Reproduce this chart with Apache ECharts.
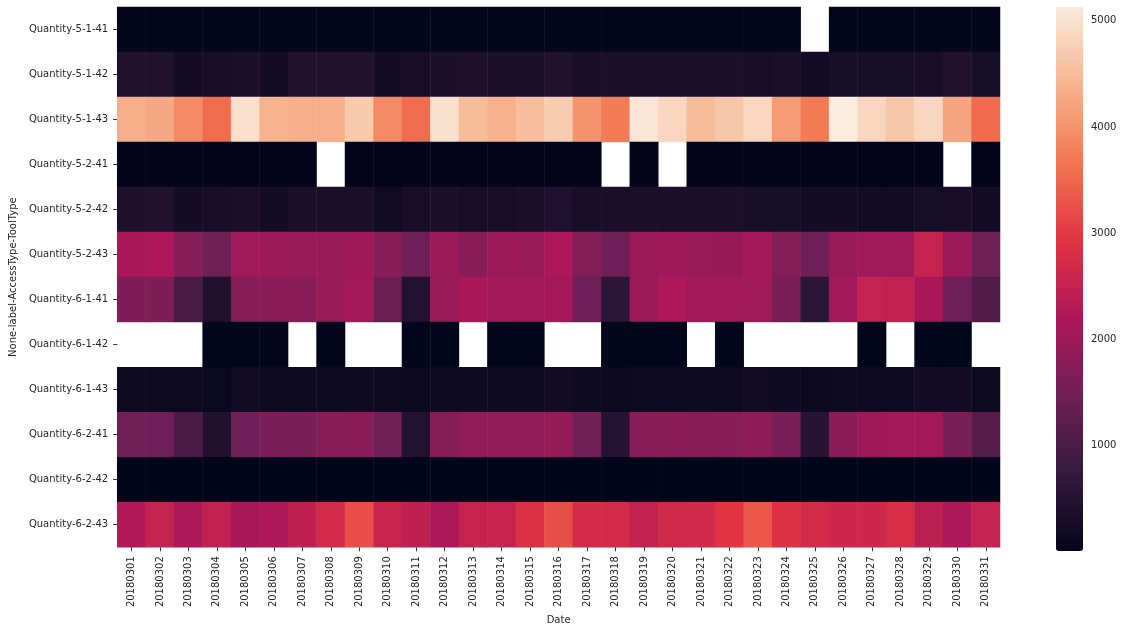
<!DOCTYPE html>
<html><head><meta charset="utf-8">
<script src="https://cdn.jsdelivr.net/npm/echarts@6/dist/echarts.min.js"></script>
<style>html,body{margin:0;padding:0;background:#fff}#c{width:1123px;height:630px}</style>
</head><body><div id="c"></div>
<script>
const dates = ['20180301','20180302','20180303','20180304','20180305','20180306','20180307','20180308','20180309','20180310','20180311','20180312','20180313','20180314','20180315','20180316','20180317','20180318','20180319','20180320','20180321','20180322','20180323','20180324','20180325','20180326','20180327','20180328','20180329','20180330','20180331'];
const rowNames = ['Quantity-5-1-41','Quantity-5-1-42','Quantity-5-1-43','Quantity-5-2-41','Quantity-5-2-42','Quantity-5-2-43','Quantity-6-1-41','Quantity-6-1-42','Quantity-6-1-43','Quantity-6-2-41','Quantity-6-2-42','Quantity-6-2-43'];
const colorbarTicks = [1000, 2000, 3000, 4000, 5000];
const vMin = 10, vMax = 5130;

const q5_1_41 = [30,30,30,30,30,30,30,30,30,30,30,30,30,30,30,30,30,30,30,30,30,30,30,30,null,30,30,30,30,30,30];
const q5_1_42 = [435,435,280,315,380,260,435,435,435,270,315,360,400,360,360,435,300,378,378,345,345,378,315,345,230,285,285,285,315,435,285];
const q5_1_43 = [4325,4255,3913,3560,4970,4390,4340,4340,4690,3900,3560,4980,4500,4350,4520,4720,4020,3725,5060,4850,4500,4650,4870,4105,3730,5130,4850,4650,4850,4235,3540];
const q5_2_41 = [20,20,20,20,20,20,20,null,20,20,20,20,20,20,20,20,20,null,20,null,20,20,20,20,20,20,20,20,20,null,20];
const q5_2_42 = [400,435,270,315,345,260,380,380,345,200,315,360,315,315,345,410,300,345,378,345,345,378,285,285,255,255,245,230,285,315,245];
const q5_2_43 = [2145,2210,1740,1430,2050,2005,1955,1955,2040,1765,1460,2005,1765,1990,1950,2180,1690,1460,1990,2030,1950,1940,2090,1690,1460,1950,2050,2050,2530,1990,1440];
const q6_1_41 = [1665,1650,1015,445,1740,1765,1750,1970,2090,1395,460,1950,2165,2060,2090,2100,1460,615,2005,2220,2090,2060,2050,1610,615,2090,2505,2470,2165,1465,1100];
const q6_1_42 = [null,null,null,30,30,30,null,30,null,null,30,30,null,30,30,null,null,30,30,30,null,30,null,null,null,null,30,null,30,30,null];
const q6_1_43 = [156,156,156,110,200,140,140,140,185,140,125,156,185,170,170,215,156,125,170,156,156,140,200,185,125,140,140,156,215,255,140];
const q6_2_41 = [1450,1460,1015,445,1465,1610,1575,1740,1750,1450,465,1715,1840,1850,1850,1900,1490,510,1740,1745,1730,1740,1820,1590,535,1765,2030,2060,2090,1575,1140];
const q6_2_42 = [10,10,10,10,10,10,10,10,10,10,10,10,10,10,10,10,10,10,10,10,10,10,10,10,10,10,10,10,10,10,10];
const q6_2_43 = [2280,2505,2220,2470,2145,2220,2440,2725,3220,2580,2440,2185,2530,2530,2835,3230,2740,2720,2485,2680,2690,2930,3340,2860,2725,2650,2650,2790,2420,2220,2505];

const rowsData = [q5_1_41,q5_1_42,q5_1_43,q5_2_41,q5_2_42,q5_2_43,q6_1_41,q6_1_42,q6_1_43,q6_2_41,q6_2_42,q6_2_43];
const rocket = ['#03051A','#35193E','#701F57','#AD1759','#E13342','#F37651','#F6B48F','#FAEBDD'];

const heat = [];
rowsData.forEach((arr, r) => arr.forEach((v, c) => { if (v !== null) heat.push([c, r, v]); }));

const FONT = 'DejaVu Sans';
const TXT = '#262626';
const chart = echarts.init(document.getElementById('c'), null, {renderer: 'canvas'});
chart.setOption({
  animation: false,
  backgroundColor: '#ffffff',
  textStyle: {fontFamily: FONT},
  grid: [
    {left: 108, right: 123, top: 7, bottom: 79},
    {left: 1056, width: 27, top: 7, height: 544}
  ],
  xAxis: [
    {type: 'category', gridIndex: 0, data: dates,
     name: 'Date', nameLocation: 'middle', nameGap: 66,
     nameTextStyle: {fontSize: 10, color: TXT, fontFamily: FONT},
     axisLine: {show: false},
     axisTick: {show: true, alignWithLabel: true, interval: 0, length: 4, lineStyle: {color: '#333'}},
     axisLabel: {rotate: 90, interval: 0, fontSize: 10, color: TXT, margin: 9, fontFamily: FONT},
     splitLine: {show: false}},
    {type: 'value', gridIndex: 1, show: false, min: 0, max: 1}
  ],
  yAxis: [
    {type: 'category', gridIndex: 0, data: rowNames, inverse: true,
     name: 'None-label-AccessType-ToolType', nameLocation: 'middle', nameGap: 95,
     nameTextStyle: {fontSize: 10, color: TXT, fontFamily: FONT},
     axisLine: {show: false},
     axisTick: {show: true, alignWithLabel: true, interval: 0, length: 4, lineStyle: {color: '#333'}},
     axisLabel: {interval: 0, fontSize: 10, color: TXT, margin: 9, fontFamily: FONT},
     splitLine: {show: false}},
    {type: 'value', gridIndex: 1, min: vMin, max: vMax, position: 'right',
     axisLine: {show: false},
     axisTick: {show: true, inside: false, length: 4, customValues: colorbarTicks, lineStyle: {color: '#333'}},
     axisLabel: {show: true, customValues: colorbarTicks, fontSize: 10, color: TXT, margin: 8, fontFamily: FONT,
                 formatter: v => String(v)},
     splitLine: {show: false}}
  ],
  visualMap: {
    type: 'continuous', min: vMin, max: vMax, seriesIndex: 0,
    calculable: false, show: true, left: 1056, top: 7, itemWidth: 27, itemHeight: 544,
    padding: 0, text: null, showLabel: false,
    inRange: {color: rocket}
  },
  series: [{
    type: 'heatmap', xAxisIndex: 0, yAxisIndex: 0, data: heat,
    itemStyle: {borderWidth: 0},
    emphasis: {disabled: true}
  }]
});
</script></body></html>
